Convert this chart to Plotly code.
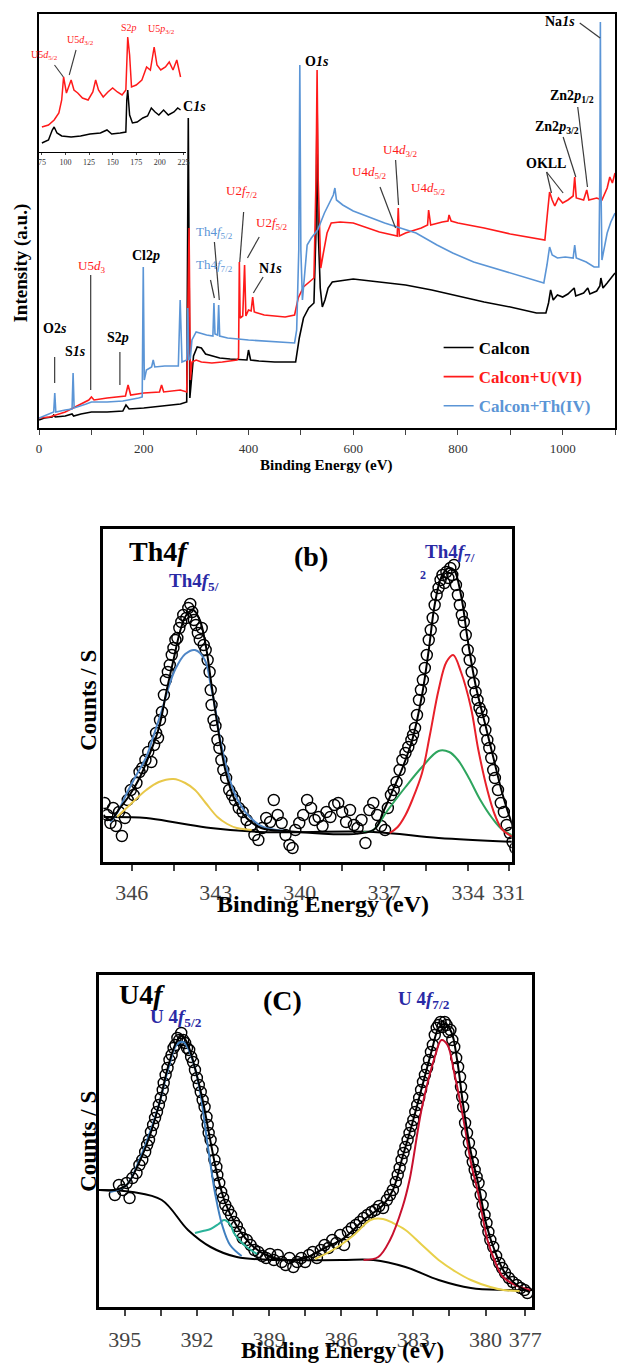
import plotly.graph_objects as go

FONT = "Liberation Serif"

# ---------------- Panel (a): XPS survey ----------------
calcon_E = [0, 10, 25, 28, 31, 50, 63, 66, 80, 100, 130, 160, 166, 172, 200, 240, 270, 282, 285, 288,
            291, 295, 302, 310, 318, 330, 345, 365, 385, 397, 400, 404, 420, 450, 490, 497, 505, 515, 525, 529,
            531, 533, 537, 541, 546, 552, 560, 575, 600, 650, 700, 750, 800, 850, 900, 950, 968, 973, 977, 982,
            990, 1000, 1010, 1022, 1025, 1040, 1048, 1052, 1065, 1071, 1073, 1077, 1085, 1093, 1100]
calcon_I = [8, 10, 11, 13, 11, 12, 14, 12, 14, 16, 16, 17, 23, 19, 20, 22, 24, 26, 310, 30,
            50, 72, 81, 80, 74, 72, 70, 69, 68, 68, 78, 68, 67, 66, 66, 90, 110, 120, 125, 200,
            330, 200, 140, 121, 128, 140, 146, 147, 149, 146, 143, 138, 132, 126, 121, 115, 115, 125, 138, 128,
            133, 131, 134, 140, 132, 135, 140, 134, 137, 142, 150, 140, 145, 150, 155]

u_E = [0, 20, 50, 80, 95, 100, 105, 130, 165, 170, 175, 200, 230, 234, 238, 270, 282, 286.5, 289, 292,
       300, 310, 330, 350, 378, 381, 382.5, 384, 389, 392.5, 395, 400, 405, 408, 411, 430, 450, 470, 488, 495,
       505, 515, 525, 529, 531, 533, 538, 542, 550, 558, 575, 600, 650, 684, 686, 688, 700, 730, 742, 744,
       748, 770, 781, 783, 787, 800, 850, 900, 940, 966, 971, 975, 980, 985, 992, 1000, 1010, 1020, 1023, 1026,
       1040, 1046, 1050, 1065, 1075, 1085, 1090, 1095, 1100]
u_I = [10, 11, 16, 24, 28, 31, 28, 30, 32, 43, 33, 35, 36, 43, 36, 38, 36, 200, 48, 66,
       68, 66, 65, 66, 68, 70, 166, 110, 112, 163, 112, 118, 117, 131, 116, 113, 112, 111, 113, 130,
       141, 146, 150, 250, 358, 250, 160, 172, 195, 205, 206, 205, 196, 192, 220, 192, 195, 200, 203, 218,
       203, 206, 207, 213, 207, 205, 200, 194, 190, 188, 215, 236, 228, 222, 230, 225, 228, 232, 251, 230,
       228, 238, 228, 230, 228, 240, 251, 245, 255]

th_E = [0, 20, 28, 30, 32, 50, 63, 65, 67, 90, 100, 130, 160, 190, 197, 199, 201, 205, 215, 218,
        221, 240, 266, 269.5, 273, 282, 284, 286, 289, 292, 300, 320, 332, 334, 336, 341, 343, 345, 360, 400,
        450, 488, 492, 496, 498, 500, 503, 507, 512, 520, 532, 545, 555, 562, 565, 568, 580, 600, 630, 660,
        690, 720, 760, 790, 830, 880, 930, 964, 970, 975, 980, 990, 1005, 1020, 1023, 1026, 1045, 1060, 1069, 1071,
        1072, 1073, 1075, 1080, 1085, 1092, 1100]
th_I = [10, 14, 16, 35, 16, 18, 19, 55, 20, 24, 26, 26, 27, 30, 31, 161, 48, 58, 61, 68,
        61, 62, 62, 128, 66, 68, 120, 68, 70, 88, 96, 93, 92, 125, 94, 93, 123, 92, 90, 88,
        86, 85, 98, 178, 363, 178, 128, 150, 183, 190, 198, 215, 225, 233, 240, 228, 223, 217, 211, 205,
        200, 195, 183, 175, 166, 158, 150, 145, 163, 181, 173, 170, 171, 170, 183, 170, 166, 161, 161, 250,
        406, 250, 168, 180, 195, 206, 215]

# inset (75-225 eV)
inset_u_E = [75, 82, 88, 93, 96, 98, 101, 104, 106, 109, 113, 118, 124, 129, 132, 135, 140, 145, 150, 155,
             160, 164, 166, 168, 170, 175, 181, 186, 190, 194, 197, 201, 206, 210, 214, 218, 222]
inset_u_I = [25, 27, 32, 39, 52, 75, 59, 67, 72, 62, 59, 54, 52, 60, 72, 62, 55, 60, 64, 60,
             57, 62, 115, 97, 65, 67, 72, 85, 82, 105, 87, 82, 85, 90, 82, 92, 75]
inset_c_E = [75, 82, 86, 88, 91, 96, 106, 116, 126, 137, 144, 149, 158, 164, 165, 166, 168, 171, 176, 182,
             187, 191, 195, 199, 204, 209, 215, 219, 222]
inset_c_I = [9, 12, 22, 25, 19, 16, 15, 16, 18, 19, 22, 18, 19, 20, 52, 62, 37, 29, 30, 34,
             36, 44, 40, 37, 42, 37, 40, 44, 42]

a_tick_step = 200
inset_tick_step = 25

# ---------------- Panel (b): Th4f ----------------
b_E = [346.97, 346.87, 346.76, 346.66, 346.56, 346.45, 346.35, 346.24, 346.14, 346.03,
       345.93, 345.83, 345.72, 345.62, 345.51, 345.41, 345.30, 345.20, 345.13, 345.06,
       344.99, 344.92, 344.85, 344.78, 344.71, 344.64, 344.57, 344.51, 344.44, 344.37,
       344.30, 344.23, 344.16, 344.05, 343.98, 343.91, 343.84, 343.78, 343.71, 343.64,
       343.57, 343.50, 343.43, 343.36, 343.29, 343.22, 343.18, 343.15, 343.08, 343.01,
       342.94, 342.87, 342.80, 342.73, 342.63, 342.52, 342.42, 342.32, 342.18, 342.04,
       341.90, 341.76, 341.62, 341.48, 341.34, 341.20, 341.06, 340.93, 340.79, 340.65,
       340.51, 340.37, 340.26, 340.16, 340.02, 339.88, 339.74, 339.60, 339.47, 339.33,
       339.19, 339.05, 338.91, 338.77, 338.63, 338.49, 338.35, 338.21, 338.07, 337.94,
       337.80, 337.66, 337.52, 337.38, 337.24, 337.10, 336.96, 336.86, 336.75, 336.65,
       336.55, 336.44, 336.34, 336.23, 336.13, 336.02, 335.96, 335.89, 335.82, 335.75,
       335.68, 335.61, 335.54, 335.47, 335.40, 335.33, 335.26, 335.19, 335.12, 335.05,
       334.98, 334.91, 334.84, 334.77, 334.70, 334.63, 334.56, 334.50, 334.43, 334.36,
       334.29, 334.22, 334.15, 334.08, 334.01, 333.94, 333.87, 333.80, 333.73, 333.66,
       333.59, 333.52, 333.45, 333.38, 333.31, 333.24, 333.17, 333.10, 333.04, 332.93,
       332.83, 332.72, 332.62, 332.51, 332.41, 332.31, 332.20]
b_counts = [59, 47, 39, 54, 36, 50, 26, 44, 62, 72,
            67, 79, 90, 94, 102, 110, 100, 117, 129, 124,
            142, 150, 167, 182, 190, 197, 207, 214, 222, 224,
            234, 240, 247, 244, 254, 258, 250, 242, 237, 229,
            222, 234, 217, 212, 202, 190, 172, 157, 142, 136,
            122, 114, 102, 92, 84, 72, 67, 62, 54, 50,
            42, 36, 27, 22, 34, 44, 40, 62, 47, 39,
            27, 17, 14, 32, 39, 47, 62, 54, 42, 45,
            36, 50, 45, 57, 59, 50, 40, 52, 37, 34,
            42, 19, 52, 59, 47, 36, 32, 54, 67, 72,
            80, 92, 102, 109, 115, 122, 127, 134, 147, 162,
            172, 182, 194, 207, 222, 232, 244, 257, 267, 274,
            282, 287, 279, 290, 284, 294, 287, 297, 277, 267,
            257, 247, 240, 227, 212, 202, 190, 179, 170, 162,
            154, 150, 142, 132, 122, 114, 104, 92, 84, 72,
            59, 50, 37, 29, 20, 14, 10]

b_env_E = [347.01, 346.76, 346.42, 346.07, 345.72, 345.37, 345.03, 344.75, 344.51, 344.26,
           344.05, 343.81, 343.57, 343.36, 343.15, 342.94, 342.66, 342.32, 341.90, 341.38,
           340.51, 337.38, 337.03, 336.68, 336.34, 335.99, 335.64, 335.40, 335.19, 334.95,
           334.70, 334.50, 334.25, 334.01, 333.73, 333.38, 333.10, 332.76, 332.41, 332.17]
b_env_I = [47, 42, 54, 67, 84, 107, 134, 172, 202, 232,
           247, 252, 242, 217, 177, 137, 92, 62, 44, 34,
           31, 32, 50, 72, 94, 122, 167, 212, 257, 285,
           294, 292, 267, 222, 177, 137, 105, 67, 37, 24]
b_bg_E = [347.01, 345.48, 344.33, 343.18, 341.45, 337.38, 335.05, 332.2]
b_bg_I = [45, 44, 39, 34, 30, 30, 24, 20]
b_f52_E = [346.76, 346.52, 346.17, 345.83, 345.48, 345.20, 344.92, 344.68, 344.44, 344.09,
           343.74, 343.39, 343.18, 343.01, 342.84, 342.59, 342.35, 342.07, 341.79, 341.31, 340.51]
b_f52_I = [40, 49, 69, 87, 105, 128, 152, 175, 193, 208,
           212, 202, 177, 152, 122, 92, 70, 55, 45, 35, 31]
b_sat_E = [346.52, 346.07, 345.48, 345.03, 344.51, 344.09, 343.74, 343.36, 342.94, 342.59, 342.25, 341.72]
b_sat_I = [45, 57, 72, 80, 83, 79, 72, 59, 45, 38, 34, 32]
b_f72_E = [336.79, 336.51, 336.23, 335.99, 335.64, 335.36, 335.05, 334.77, 334.53, 334.25,
           333.90, 333.63, 333.31, 333.04, 332.76, 332.17]
b_f72_I = [29, 35, 47, 62, 89, 127, 172, 200, 207, 190, 155, 112, 72, 47, 32, 22]
b_f72b_E = [337.73, 337.38, 336.86, 336.23, 335.64, 335.05, 334.67, 334.36, 333.97, 333.56, 333.14, 332.76, 332.17]
b_f72b_I = [30, 32, 52, 75, 95, 111, 110, 102, 84, 62, 44, 32, 24]

b_tick_vals = [346, 343, 340, 337, 334, 332.55]
b_tick_text = ["346", "343", "340", "337", "334", "331"]
b_minor_vals = [344.5, 341.5, 338.5, 335.5]

# ---------------- Panel (c): U4f ----------------
c_E = [395.41, 395.24, 395.08, 394.92, 394.80, 394.68, 394.51, 394.39, 394.27, 394.15,
       394.07, 393.99, 393.91, 393.82, 393.74, 393.66, 393.58, 393.50, 393.42, 393.38,
       393.30, 393.22, 393.14, 393.05, 392.97, 392.89, 392.81, 392.73, 392.65, 392.57,
       392.49, 392.41, 392.32, 392.24, 392.16, 392.08, 392.00, 391.92, 391.84, 391.76,
       391.68, 391.60, 391.55, 391.51, 391.43, 391.35, 391.27, 391.19, 391.15, 391.07,
       390.99, 390.91, 390.82, 390.70, 390.58, 390.46, 390.34, 390.22, 390.10, 389.93,
       389.77, 389.61, 389.45, 389.28, 389.12, 388.96, 388.80, 388.64, 388.47, 388.31,
       388.15, 387.99, 387.83, 387.66, 387.50, 387.34, 387.18, 387.01, 386.85, 386.69,
       386.53, 386.37, 386.20, 386.04, 385.88, 385.72, 385.56, 385.39, 385.23, 385.07,
       384.91, 384.74, 384.58, 384.42, 384.26, 384.10, 383.97, 383.85, 383.73, 383.65,
       383.57, 383.49, 383.41, 383.33, 383.24, 383.16, 383.08, 383.00, 382.92, 382.84,
       382.76, 382.68, 382.60, 382.52, 382.43, 382.35, 382.27, 382.19, 382.11, 382.03,
       381.95, 381.87, 381.79, 381.70, 381.62, 381.54, 381.46, 381.38, 381.30, 381.22,
       381.14, 381.06, 381.02, 380.97, 380.93, 380.85, 380.77, 380.69, 380.61, 380.53,
       380.45, 380.37, 380.29, 380.20, 380.12, 380.04, 379.96, 379.88, 379.80, 379.68,
       379.56, 379.43, 379.31, 379.19, 379.03, 378.87, 378.70, 378.54, 378.38, 378.26]
c_counts = [112, 122, 117, 124, 109, 129, 134, 142, 147, 155,
            162, 167, 175, 182, 189, 195, 202, 209, 217, 224,
            232, 239, 247, 252, 259, 262, 269, 267, 274, 267,
            264, 259, 257, 250, 245, 237, 229, 222, 215, 207,
            200, 190, 182, 174, 167, 157, 147, 140, 132, 124,
            115, 109, 102, 97, 92, 85, 81, 75, 69, 67,
            62, 57, 55, 51, 49, 53, 47, 52, 45, 42,
            49, 40, 45, 49, 45, 52, 55, 49, 57, 62,
            59, 67, 64, 72, 62, 75, 79, 82, 85, 89,
            92, 95, 97, 101, 99, 107, 112, 117, 125, 132,
            139, 147, 154, 160, 167, 174, 181, 187, 195, 202,
            209, 217, 225, 232, 239, 247, 255, 262, 272, 279,
            282, 285, 280, 285, 282, 275, 277, 267, 260, 249,
            240, 230, 220, 210, 200, 184, 174, 164, 154, 145,
            137, 130, 124, 112, 102, 92, 84, 75, 67, 60,
            51, 44, 39, 34, 29, 25, 22, 19, 17, 14]

c_env_E = [396.01, 395.41, 394.92, 394.39, 393.99, 393.58, 393.18, 392.85, 392.61, 392.37,
           392.08, 391.76, 391.43, 391.15, 390.82, 390.34, 389.73, 389.12, 388.31, 387.50,
           386.69, 385.88, 385.07, 384.26, 383.85, 383.45, 383.04, 382.64, 382.23, 381.95,
           381.70, 381.42, 381.18, 380.93, 380.61, 380.29, 379.96, 379.60, 379.19, 378.70, 378.18]
c_env_I = [117, 117, 122, 145, 169, 202, 242, 265, 271, 262,
           239, 207, 165, 132, 104, 81, 62, 52, 47, 49,
           59, 69, 87, 102, 117, 150, 184, 220, 257, 279,
           283, 275, 247, 202, 155, 122, 82, 55, 34, 22, 15]
c_bg_E = [396.09, 394.68, 393.46, 392.37, 391.43, 390.34, 388.72, 386.0, 384.66, 383.33, 381.95, 380.61, 379.27, 378.06]
c_bg_I = [117, 115, 107, 77, 60, 50, 47, 47, 47, 40, 27, 19, 17, 17]
c_f52_E = [395.61, 394.92, 394.39, 393.99, 393.58, 393.18, 392.85, 392.57, 392.37, 392.08,
           391.84, 391.64, 391.43, 391.23, 390.95, 390.62, 390.14]
c_f52_I = [115, 122, 147, 172, 202, 239, 262, 265, 259, 239, 212, 177, 142, 112, 82, 62, 51]
c_sat52_E = [392.08, 391.75, 391.43, 391.1, 390.87, 390.6, 390.46, 390.2, 389.93, 389.5]
c_sat52_I = [74, 76, 78, 83, 87, 82, 74, 66, 60, 53]
c_f72_E = [385.07, 384.46, 383.97, 383.45, 383.16, 382.64, 382.11, 381.83, 381.58, 381.30,
           380.89, 380.61, 380.29, 379.92, 379.60, 379.27, 378.58, 378.14]
c_f72_I = [47, 50, 67, 100, 127, 200, 250, 267, 262, 234, 184, 145, 112, 67, 45, 30, 20, 17]
c_sat72_E = [387.09, 386.28, 385.47, 384.78, 384.26, 383.85, 383.33, 382.64, 381.95, 381.22, 380.61, 379.80, 379.27, 378.58]
c_sat72_I = [48, 58, 72, 87, 88, 84, 77, 62, 47, 35, 27, 20, 17, 16]

c_tick_vals = [395, 392, 389, 386, 383, 380, 378.35]
c_tick_text = ["395", "392", "389", "386", "383", "380", "377"]
c_minor_vals = [393.5, 390.5, 387.5, 384.5, 381.5]

# ---------------- colours ----------------
BLACK = "#000000"
RED_A = "#ff1a1a"
BLUE_A = "#5b95d6"
NAVY = "#2a2aa5"

fig = go.Figure()

# survey
fig.add_trace(go.Scatter(x=calcon_E, y=calcon_I, mode="lines", line=dict(color=BLACK, width=1.6),
                         name="<b>Calcon</b>", xaxis="x", yaxis="y", legendgroup="g1", legendrank=1))
fig.add_trace(go.Scatter(x=u_E, y=u_I, mode="lines", line=dict(color=RED_A, width=1.6),
                         name="<b><span style='color:#ff1a1a'>Calcon+U(VI)</span></b>",
                         xaxis="x", yaxis="y", legendgroup="g2", legendrank=2))
fig.add_trace(go.Scatter(x=th_E, y=th_I, mode="lines", line=dict(color=BLUE_A, width=1.6),
                         name="<b><span style='color:#5b95d6'>Calcon+Th(IV)</span></b>",
                         xaxis="x", yaxis="y", legendgroup="g3", legendrank=3))
# inset
fig.add_trace(go.Scatter(x=inset_u_E, y=inset_u_I, mode="lines", line=dict(color=RED_A, width=1.5),
                         xaxis="x2", yaxis="y2", showlegend=False))
fig.add_trace(go.Scatter(x=inset_c_E, y=inset_c_I, mode="lines", line=dict(color=BLACK, width=1.5),
                         xaxis="x2", yaxis="y2", showlegend=False))

# panel b
fig.add_trace(go.Scatter(x=b_E, y=b_counts, mode="markers",
                         marker=dict(symbol="circle-open", size=11, color=BLACK, line=dict(width=1.4)),
                         xaxis="x3", yaxis="y3", showlegend=False))
for ex, ey, col in [(b_bg_E, b_bg_I, BLACK), (b_sat_E, b_sat_I, "#e8c84a"), (b_f52_E, b_f52_I, "#4f86c6"),
                    (b_f72b_E, b_f72b_I, "#2ea55e"), (b_f72_E, b_f72_I, "#e8202a"), (b_env_E, b_env_I, BLACK)]:
    fig.add_trace(go.Scatter(x=ex, y=ey, mode="lines", line=dict(color=col, width=2, shape="spline", smoothing=1),
                             xaxis="x3", yaxis="y3", showlegend=False))

# panel c
fig.add_trace(go.Scatter(x=c_E, y=c_counts, mode="markers",
                         marker=dict(symbol="circle-open", size=11, color=BLACK, line=dict(width=1.4)),
                         xaxis="x4", yaxis="y4", showlegend=False))
for ex, ey, col in [(c_bg_E, c_bg_I, BLACK), (c_sat72_E, c_sat72_I, "#e8d04a"), (c_sat52_E, c_sat52_I, "#2ab39a"),
                    (c_f52_E, c_f52_I, "#3f7fbf"), (c_f72_E, c_f72_I, "#c8102e"), (c_env_E, c_env_I, BLACK)]:
    fig.add_trace(go.Scatter(x=ex, y=ey, mode="lines", line=dict(color=col, width=2, shape="spline", smoothing=1),
                             xaxis="x4", yaxis="y4", showlegend=False))

# ---------------- annotations ----------------
ann = []


def note(text, x, y, xref, yref, size, color=BLACK, bold=True, angle=0):
    t = f"<b>{text}</b>" if bold else text
    ann.append(dict(text=t, x=x, y=y, xref=xref, yref=yref, showarrow=False, textangle=angle,
                    font=dict(family=FONT, size=size, color=color), xanchor="center", yanchor="middle"))


for t, x, y in [("O2<i>s</i>", 29.8, 100), ("S<i>1s</i>", 68.8, 77), ("S2<i>p</i>", 150.7, 91),
                ("Cl2<i>p</i>", 204.7, 173), ("C<i>1s</i>", 297, 321), ("O<i>1s</i>", 530, 366),
                ("N<i>1s</i>", 442.8, 160), ("OKLL", 967.4, 265), ("Zn2<i>p</i><sub>3/2</sub>", 989.8, 300),
                ("Zn2<i>p</i><sub>1/2</sub>", 1017.7, 331), ("Na<i>1s</i>", 995.3, 406)]:
    note(t, x, y, "x", "y", 14)
for t, x, y in [("U5<i>d</i><sub>3</sub>", 100.5, 162), ("U2<i>f</i><sub>7/2</sub>", 387, 237),
                ("U2<i>f</i><sub>5/2</sub>", 444.7, 205), ("U4<i>d</i><sub>3/2</sub>", 688.4, 278),
                ("U4<i>d</i><sub>5/2</sub>", 630.7, 256), ("U4<i>d</i><sub>5/2</sub>", 742.3, 240)]:
    note(t, x, y, "x", "y", 13, RED_A, bold=False)
for t, x, y in [("Th4<i>f</i><sub>5/2</sub>", 334.9, 196), ("Th4<i>f</i><sub>7/2</sub>", 334.9, 163)]:
    note(t, x, y, "x", "y", 13, BLUE_A, bold=False)
for t, x, y in [("U5<i>d</i><sub>5/2</sub>", 78.1, 96), ("U5<i>d</i><sub>3/2</sub>", 116.4, 111),
                ("S2<i>p</i>", 167.0, 124), ("U5<i>p</i><sub>3/2</sub>", 202.2, 122)]:
    note(t, x, y, "x2", "y2", 10, RED_A, bold=False)

note("Th4<i>f</i>", 345.03, 311, "x3", "y3", 28)
note("(b)", 339.6, 306, "x3", "y3", 28)
note("Th4<i>f</i><sub>5/</sub>", 343.78, 280, "x3", "y3", 19, NAVY)
note("Th4<i>f</i><sub>7/</sub>", 334.63, 309, "x3", "y3", 19, NAVY)
note("2", 335.61, 287, "x3", "y3", 12, NAVY)

note("U4<i>f</i>", 394.27, 313, "x4", "y4", 28)
note("(C)", 388.43, 307, "x4", "y4", 28)
note("U 4<i>f</i><sub>5/2</sub>", 392.85, 289, "x4", "y4", 19, NAVY)
note("U 4<i>f</i><sub>7/2</sub>", 382.56, 307, "x4", "y4", 19, NAVY)

# axis titles
note("Binding Energy (eV)", 332 / 629, 1 - 466 / 1364, "paper", "paper", 15)
note("Intensity (a.u.)", 18 / 629, 1 - 263 / 1364, "paper", "paper", 19, angle=-90)
note("Binding Energy (eV)", 328 / 629, 1 - 904 / 1364, "paper", "paper", 24)
note("Counts / S", 87 / 629, 1 - 700 / 1364, "paper", "paper", 23, angle=-90)
note("Binding Energy (eV)", 348 / 629, 1 - 1350 / 1364, "paper", "paper", 23)
note("Counts / S", 87 / 629, 1 - 1141 / 1364, "paper", "paper", 23, angle=-90)

# leader lines
shapes = []
LC = "#3a3a3a"
for x0, y0, x1, y1 in [(29.8, 71, 29.8, 45), (98.6, 153, 98.6, 38), (154.4, 76, 154.4, 43),
                       (334.9, 186, 344.2, 128), (327.4, 148, 334.9, 130), (390.7, 216, 383.3, 166),
                       (420.5, 191, 398.0, 170), (427.9, 151, 409.3, 135), (680.9, 268, 686.5, 223),
                       (651.2, 241, 680.9, 200), (969.3, 256, 978.6, 235), (969.3, 256, 1000.9, 235),
                       (1000.9, 291, 1025.1, 251), (1028.8, 321, 1047.4, 241), (1032.6, 405, 1071.6, 390)]:
    shapes.append(dict(type="line", xref="x", yref="y", x0=x0, y0=y0, x1=x1, y1=y1,
                       line=dict(color=LC, width=1.2)))
for x0, y0, x1, y1 in [(88.4, 87, 97.8, 75), (111.2, 102, 104.0, 77)]:
    shapes.append(dict(type="line", xref="x2", yref="y2", x0=x0, y0=y0, x1=x1, y1=y1,
                       line=dict(color=LC, width=1.1)))

tickfont_a = dict(family=FONT, size=13, color="#333333")
tickfont_bc = dict(family=FONT, size=22, color="#444444")
frame = dict(showline=True, linecolor="black", mirror=True, showgrid=False, zeroline=False)

fig.update_layout(
    width=629, height=1364,
    margin=dict(l=0, r=0, t=0, b=0),
    paper_bgcolor="white", plot_bgcolor="rgba(0,0,0,0)",
    showlegend=True,
    legend=dict(x=447 / 629, y=1 - 330 / 1364, xanchor="left", yanchor="top",
                font=dict(family=FONT, size=17, color="black"), bgcolor="rgba(0,0,0,0)",
                tracegroupgap=4, itemwidth=30),
    annotations=ann, shapes=shapes,
    xaxis=dict(domain=[37 / 629, 628 / 629], anchor="y", range=[0, 1100], linewidth=1.5,
               ticks="outside", ticklen=5, tickwidth=1.2, tick0=0, dtick=a_tick_step, tickfont=tickfont_a,
               ticklabelstandoff=3,
               minor=dict(dtick=a_tick_step / 2, ticks="outside", ticklen=5, tickwidth=1.2), **frame),
    yaxis=dict(domain=[1 - 428 / 1364, 1 - 14 / 1364], anchor="x", range=[0, 414], linewidth=1.5,
               showticklabels=False, ticks="", **frame),
    xaxis2=dict(domain=[37 / 629, 188 / 629], anchor="y2", range=[72, 228], showline=True,
                linecolor="black", linewidth=1, mirror=False, showgrid=False, zeroline=False,
                ticks="outside", ticklen=2, tick0=75, dtick=inset_tick_step,
                tickfont=dict(family=FONT, size=8, color="#333333")),
    yaxis2=dict(domain=[1 - 152 / 1364, 1 - 14 / 1364], anchor="x2", range=[0, 138], visible=False),
    xaxis3=dict(domain=[103 / 629, 522 / 629], anchor="y3", range=[347.01, 332.44], linewidth=2.5,
                tickmode="array", tickvals=b_tick_vals, ticktext=b_tick_text, ticks="outside", ticklen=6,
                tickwidth=2, tickfont=tickfont_bc, ticklabelstandoff=3,
                minor=dict(tickmode="array", tickvals=b_minor_vals, ticks="outside", ticklen=6, tickwidth=2),
                **frame),
    yaxis3=dict(domain=[1 - 862 / 1364, 1 - 529 / 1364], anchor="x3", range=[0, 333], linewidth=2.5,
                showticklabels=False, ticks="", **frame),
    xaxis4=dict(domain=[98 / 629, 543 / 629], anchor="y4", range=[396.09, 378.06], linewidth=2.5,
                tickmode="array", tickvals=c_tick_vals, ticktext=c_tick_text, ticks="outside", ticklen=6,
                tickwidth=2, tickfont=tickfont_bc, ticklabelstandoff=5,
                minor=dict(tickmode="array", tickvals=c_minor_vals, ticks="outside", ticklen=6, tickwidth=2),
                **frame),
    yaxis4=dict(domain=[1 - 1307 / 1364, 1 - 975 / 1364], anchor="x4", range=[0, 332], linewidth=2.5,
                showticklabels=False, ticks="", **frame),
)

fig.write_html("out.html")
